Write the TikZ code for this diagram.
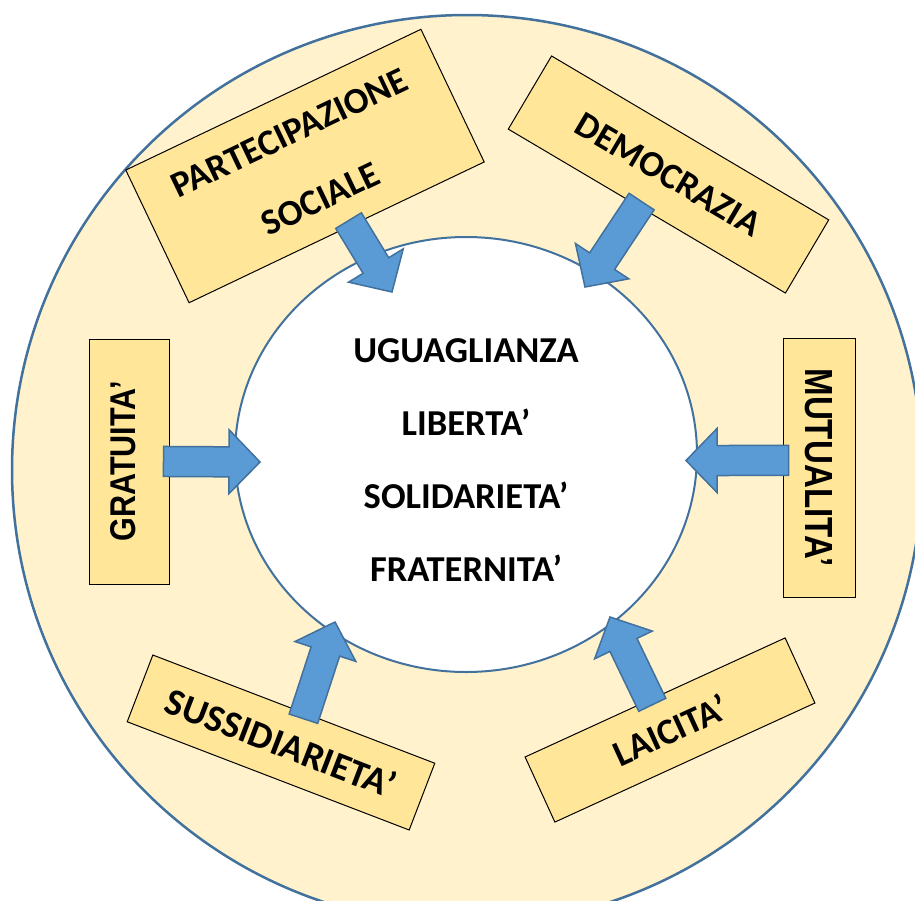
\documentclass[tikz,border=0pt]{standalone}
\usepackage{fontspec}
\setmainfont{Carlito}
\newfontfamily\arialfont{Liberation Sans}
\usepackage{graphicx}
\usepackage{tikz}
\usetikzlibrary{shapes,calc}
\definecolor{ringfill}{HTML}{FFF2CC}
\definecolor{ringline}{HTML}{41719C}
\definecolor{boxfill}{HTML}{FFE699}
\definecolor{arrowfill}{HTML}{5B9BD5}
\tikzstyle{ring} = [circle, draw=ringline, line width=2.5pt, fill=ringfill, inner sep=0pt]
\tikzstyle{core} = [ellipse, draw=ringline, line width=2pt, fill=white, inner sep=0pt]
\tikzstyle{value} = [rectangle, draw=black, line width=1pt, fill=boxfill, text=black,
align=center, inner sep=0pt, font=\bfseries\fontsize{36.5}{73}\selectfont]
\tikzstyle{fatedge} = [draw=ringline, line width=1.5pt, fill=arrowfill, line join=miter]
% Arial-like tall text squeezed to #1 x #2
\newcommand{\sidetext}[3]{\resizebox{#1}{#2}{\arialfont\bfseries #3}}
% block arrow from #1 to #2
\newcommand{\fatarrow}[2]{%
  \coordinate (fa-t) at ($(#1)!-6pt!(#2)$);
  \coordinate (fa-h) at ($(#2)!31pt!(#1)$);
  \path[fatedge] ($(fa-t)!15pt!90:(#2)$) -- ($(fa-h)!15pt!90:(#2)$) -- ($(fa-h)!32pt!90:(#2)$) -- (#2)
    -- ($(fa-h)!32pt!-90:(#2)$) -- ($(fa-h)!15pt!-90:(#2)$) -- ($(fa-t)!15pt!-90:(#2)$) -- cycle;}

\begin{document}
\begin{tikzpicture}[x=1pt, y=-1pt]
\clip (0,0) rectangle (915,900);

\node[ring, minimum size=910pt] (outer) at (467,470) {};
\node[core, minimum width=462pt, minimum height=435pt] (inner) at (466,454.5) {};

% values ============================
\node[value, rotate=25.5, minimum width=327pt, minimum height=147pt] (partecip) at (305,166) {PARTECIPAZIONE\\SOCIALE};
\node[value, rotate=-30.6, minimum width=322pt, minimum height=85pt] (democrazia) at (668.5,174.5) {DEMOCRAZIA};
\node[value, rotate=90, minimum width=245pt, minimum height=80pt] (gratuita) at (129,461.5) {\raisebox{12pt}{\sidetext{160pt}{25pt}{GRATUITA’}}};
\node[value, rotate=-90, minimum width=259pt, minimum height=72pt] (mutualita) at (819,467.5) {\sidetext{198pt}{27pt}{MUTUALITA’}};
\node[value, rotate=-21, minimum width=302pt, minimum height=71.5pt, font=\bfseries\fontsize{38}{40}\selectfont] (sussid) at (281,742.5) {SUSSIDIARIETA’};
\node[value, rotate=24.6, minimum width=286pt, minimum height=71.6pt] (laicita) at (670,730) {LAICITA’};

\node[value, draw=none, fill=none] (ideals) at (466,460) {UGUAGLIANZA\\LIBERTA’\\SOLIDARIETA’\\FRATERNITA’};

% arrows
\coordinate (partTail) at ($(partecip.south)!0.1!(partecip.south east)$);
\coordinate (demoTail) at ($(democrazia.south)!0.06!(democrazia.south west)$);
\coordinate (mutuTail) at ($(mutualita.south)!0.054!(mutualita.south west)$);
\coordinate (sussTail) at ($(sussid.north)!0.08!(sussid.north east)$);
\coordinate (laicTail) at ($(laicita.north)!0.04!(laicita.north west)$);
\coordinate (partTip) at (392,292);
\coordinate (demoTip) at (585,287);
\coordinate (gratTip) at (260,462);
\coordinate (mutuTip) at (686,460.5);
\coordinate (sussTip) at (335,622);
\coordinate (laicTip) at (610,617);

\fatarrow{partTail}{partTip}
\fatarrow{demoTail}{demoTip}
\fatarrow{gratuita.south}{gratTip}
\fatarrow{mutuTail}{mutuTip}
\fatarrow{sussTail}{sussTip}
\fatarrow{laicTail}{laicTip}

\end{tikzpicture}
\end{document}
